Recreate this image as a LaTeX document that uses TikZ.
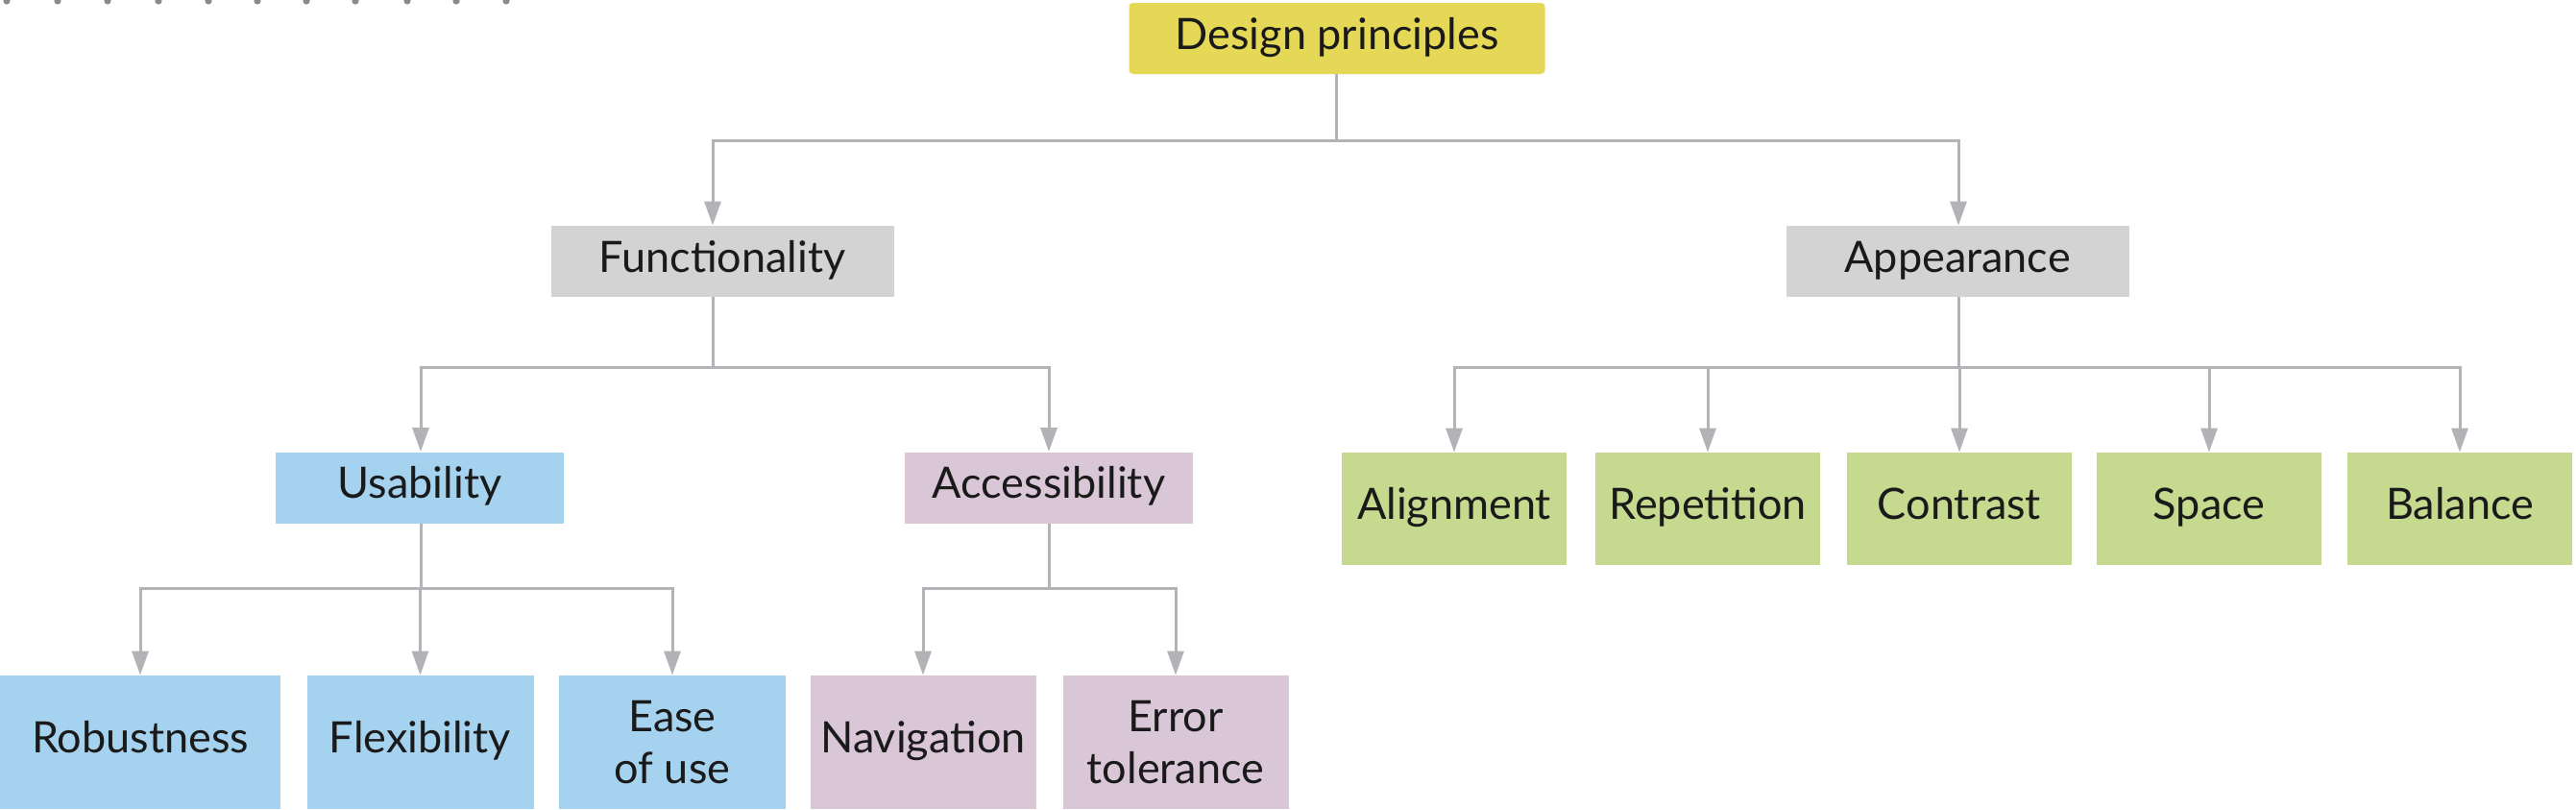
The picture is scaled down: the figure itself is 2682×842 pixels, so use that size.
\documentclass[tikz,border=0pt]{standalone}
\usepackage{fontspec}
\setmainfont{Lato}
\usetikzlibrary{arrows.meta}
\definecolor{cyellow}{HTML}{E4D856}
\definecolor{cgray}{HTML}{D3D3D3}
\definecolor{cblue}{HTML}{A5D3EF}
\definecolor{cpurple}{HTML}{D9C6D7}
\definecolor{cgreen}{HTML}{C5D98F}
\definecolor{cline}{HTML}{B3B3B7}
\definecolor{txt}{HTML}{1A1A1A}
\definecolor{cdot}{HTML}{8A8A8A}
\tikzset{
  base/.style={rectangle, inner sep=0pt, text=txt, font=\fontsize{22.5}{27}\selectfont, align=center, text height=16pt, text depth=5pt},
  twoline/.style={text height={}, text depth={}},
  ybox/.style={base, fill=cyellow, rounded corners=2pt, minimum width=216.5pt, minimum height=37pt},
  graybox/.style={base, fill=cgray, minimum width=178.5pt, minimum height=37pt},
  l2box/.style={base, minimum width=150pt, minimum height=37pt},
  l3box/.style={base, minimum height=69.5pt},
  grbox/.style={base, fill=cgreen, minimum width=117pt, minimum height=58.5pt},
  arr/.style={draw=cline, line width=1.5pt, -{Triangle[length=12.5pt,width=8.5pt]}},
  ln/.style={draw=cline, line width=1.5pt},
}
\begin{document}
\begin{tikzpicture}[x=0.5pt,y=-0.5pt]
\useasboundingbox (0,0) rectangle (2682,842);
% scan artefacts at top left
\foreach \dx in {7,60,112,165,217,268,319,370,424,475,527}{
  \fill[cdot] (\dx,1) circle (1.8pt);
}
% nodes
\node[ybox] (dp) at (1392,40) {Design principles};
\node[graybox] (func) at (752,272) {Functionality};
\node[graybox] (app) at (2038,272) {Appearance};
\node[l2box, fill=cblue] (usa) at (437,507.5) {Usability};
\node[l2box, fill=cpurple] (acc) at (1092,507.5) {Accessibility};
\node[l3box, fill=cblue, minimum width=146pt] (rob) at (146,772.5) {Robustness};
\node[l3box, fill=cblue, minimum width=118pt] (flex) at (437.5,772.5) {Flexibility};
\node[l3box, twoline, fill=cblue, minimum width=118pt] (ease) at (700,772.5) {Ease\\of use};
\node[l3box, fill=cpurple, minimum width=117.5pt] (nav) at (961,772.5) {Navigation};
\node[l3box, twoline, fill=cpurple, minimum width=117.5pt] (err) at (1224,772.5) {Error\\tolerance};
\node[grbox] (ali) at (1514,529.5) {Alignment};
\node[grbox] (rep) at (1778,529.5) {Repetition};
\node[grbox] (con) at (2040,529.5) {Contrast};
\node[grbox] (spc) at (2300,529.5) {Space};
\node[grbox] (bal) at (2561,529.5) {Balance};
% bus coordinates
\coordinate (b1) at (1391,146);
\coordinate (b2) at (742,382);
\coordinate (b2c) at (2039,382);
\coordinate (b3a) at (438,612);
\coordinate (b3b) at (1092,612);
% connectors
\draw[ln] (dp.south -| b1) -- (b1);
\draw[arr] (b1) -| (func.north -| b2);
\draw[arr] (b1) -| (app.north -| b2c);
\draw[ln] (func.south -| b2) -- (b2);
\draw[arr] (b2) -| (usa.north -| b3a);
\draw[arr] (b2) -| (acc.north);
\draw[ln] (usa.south -| b3a) -- (b3a);
\draw[arr] (b3a) -| (rob.north);
\draw[arr] (b3a) -| (flex.north);
\draw[arr] (b3a) -| (ease.north);
\draw[ln] (acc.south) -- (b3b);
\draw[arr] (b3b) -| (nav.north);
\draw[arr] (b3b) -| (err.north);
\draw[ln] (app.south -| b2c) -- (b2c);
\draw[arr] (b2c) -| (ali.north);
\draw[arr] (b2c) -| (rep.north);
\draw[arr] (b2c) -| (con.north);
\draw[arr] (b2c) -| (spc.north);
\draw[arr] (b2c) -| (bal.north);
\end{tikzpicture}
\end{document}
